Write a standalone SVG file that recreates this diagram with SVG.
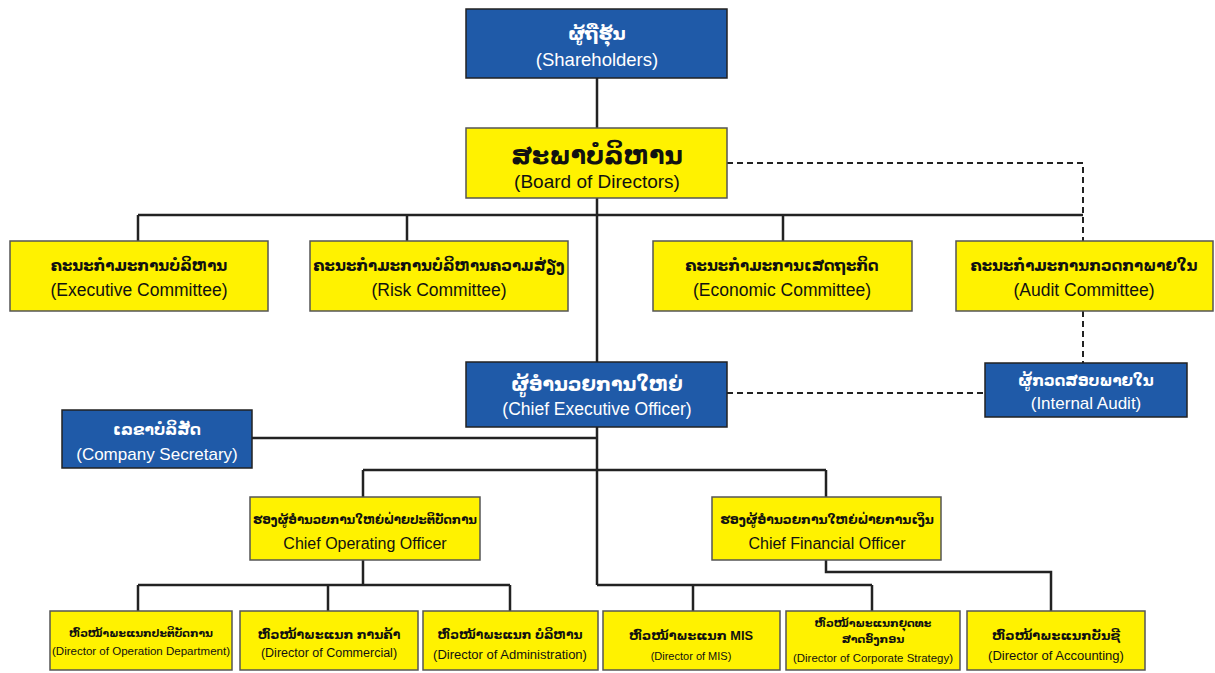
<svg xmlns="http://www.w3.org/2000/svg" width="1215" height="673" viewBox="0 0 1215 673">
<style>
.b{fill:#1f5aa8;stroke:#222;stroke-width:1.5}
.y{fill:#fff200;stroke:#555;stroke-width:1.5}
text{font-family:"Liberation Sans","DejaVu Sans",sans-serif;text-anchor:middle}
.w{fill:#fff}
.k{fill:#111}
.ln{stroke:#222;stroke-width:2.5;fill:none}
.ds{stroke:#222;stroke-width:2;fill:none;stroke-dasharray:6,4}
</style>
<rect width="1215" height="673" fill="#fff"/>
<g id="connectors">
<path class="ln" d="M597 78V585M138 215H1083M138 215V241M407 215V241M783 215V241M252 438H597M363 470H826M363 470V497M826 470V497M363 560V585M138 585H510M138 585V611M328 585V611M510 585V611M597 585H872M693 585V611M872 585V611M826 560V572H1051V611"/>
<path class="ds" d="M727 163H1083V241M1083 311V363M727 393H985"/>
</g>
<g id="shareholders"><rect class="b" x="466" y="9" width="261" height="69"/><text class="w" x="597" y="40" font-size="18" font-weight="bold">ຜູ້ຖືຮຸ້ນ</text><text class="w" x="597" y="66" font-size="18.5">(Shareholders)</text></g>
<g id="board"><rect class="y" x="466" y="128" width="261" height="70"/><text class="k" x="597" y="164" font-size="25" font-weight="bold">ສະພາບໍລິຫານ</text><text class="k" x="597" y="188" font-size="19">(Board of Directors)</text></g>
<g id="exec"><rect class="y" x="10" y="241" width="258" height="70"/><text class="k" x="139" y="271" font-size="15" font-weight="bold">ຄະນະກຳມະການບໍລິຫານ</text><text class="k" x="139" y="296" font-size="17.5">(Executive Committee)</text></g>
<g id="risk"><rect class="y" x="310" y="241" width="258" height="70"/><text class="k" x="439" y="271" font-size="15" font-weight="bold">ຄະນະກຳມະການບໍລິຫານຄວາມສ່ຽງ</text><text class="k" x="439" y="296" font-size="17.5">(Risk Committee)</text></g>
<g id="economic"><rect class="y" x="653" y="241" width="259" height="70"/><text class="k" x="782" y="271" font-size="15" font-weight="bold">ຄະນະກຳມະການເສດຖະກິດ</text><text class="k" x="782" y="296" font-size="17.5">(Economic Committee)</text></g>
<g id="audit"><rect class="y" x="956" y="241" width="257" height="70"/><text class="k" x="1084" y="271" font-size="15" font-weight="bold">ຄະນະກຳມະການກວດກາພາຍໃນ</text><text class="k" x="1084" y="296" font-size="17.5">(Audit Committee)</text></g>
<g id="ceo"><rect class="b" x="466" y="362" width="261" height="65"/><text class="w" x="597" y="391" font-size="19" font-weight="bold">ຜູ້ອຳນວຍການໃຫຍ່</text><text class="w" x="597" y="415" font-size="17.5">(Chief Executive Officer)</text></g>
<g id="internal-audit"><rect class="b" x="985" y="363" width="202" height="54"/><text class="w" x="1086" y="386" font-size="15" font-weight="bold">ຜູ້ກວດສອບພາຍໃນ</text><text class="w" x="1086" y="409" font-size="17">(Internal Audit)</text></g>
<g id="secretary"><rect class="b" x="62" y="410" width="190" height="58"/><text class="w" x="157" y="435" font-size="15.5" font-weight="bold">ເລຂາບໍລິສັດ</text><text class="w" x="157" y="460" font-size="17">(Company Secretary)</text></g>
<g id="coo"><rect class="y" x="250" y="497" width="230" height="63"/><text class="k" x="365" y="524" font-size="11.8" font-weight="bold">ຮອງຜູ້ອຳນວຍການໃຫຍ່ຝ່າຍປະຕິບັດການ</text><text class="k" x="365" y="549" font-size="16">Chief Operating Officer</text></g>
<g id="cfo"><rect class="y" x="712" y="497" width="229" height="63"/><text class="k" x="827" y="524" font-size="12.4" font-weight="bold">ຮອງຜູ້ອຳນວຍການໃຫຍ່ຝ່າຍການເງິນ</text><text class="k" x="827" y="549" font-size="16">Chief Financial Officer</text></g>
<g id="dir-operation"><rect class="y" x="50" y="611" width="182" height="59"/><text class="k" x="141" y="637" font-size="10.8" font-weight="bold">ຫົວໜ້າພະແນກປະຕິບັດການ</text><text class="k" x="141" y="655" font-size="11.4" textLength="178" lengthAdjust="spacingAndGlyphs">(Director of Operation Department)</text></g>
<g id="dir-commercial"><rect class="y" x="240" y="611" width="178" height="59"/><text class="k" x="329" y="639" font-size="12.5" font-weight="bold">ຫົວໜ້າພະແນກ ການຄ້າ</text><text class="k" x="329" y="657" font-size="12.5">(Director of Commercial)</text></g>
<g id="dir-admin"><rect class="y" x="423" y="611" width="175" height="59"/><text class="k" x="510" y="639" font-size="12.3" font-weight="bold">ຫົວໜ້າພະແນກ ບໍລິຫານ</text><text class="k" x="510" y="659" font-size="13">(Director of Administration)</text></g>
<g id="dir-mis"><rect class="y" x="603" y="611" width="177" height="59"/><text class="k" x="691" y="640" font-size="12.8" font-weight="bold">ຫົວໜ້າພະແນກ MIS</text><text class="k" x="691" y="660" font-size="11">(Director of MIS)</text></g>
<g id="dir-strategy"><rect class="y" x="786" y="611" width="174" height="59"/><text class="k" x="873" y="627" font-size="11" font-weight="bold">ຫົວໜ້າພະແນກຍຸດທະ</text><text class="k" x="873" y="643" font-size="11" font-weight="bold">ສາດອົງກອນ</text><text class="k" x="873" y="662" font-size="11.5" textLength="160" lengthAdjust="spacingAndGlyphs">(Director of Corporate Strategy)</text></g>
<g id="dir-accounting"><rect class="y" x="967" y="611" width="178" height="59"/><text class="k" x="1056" y="640" font-size="13" font-weight="bold">ຫົວໜ້າພະແນກບັນຊີ</text><text class="k" x="1056" y="660" font-size="13">(Director of Accounting)</text></g>
</svg>
